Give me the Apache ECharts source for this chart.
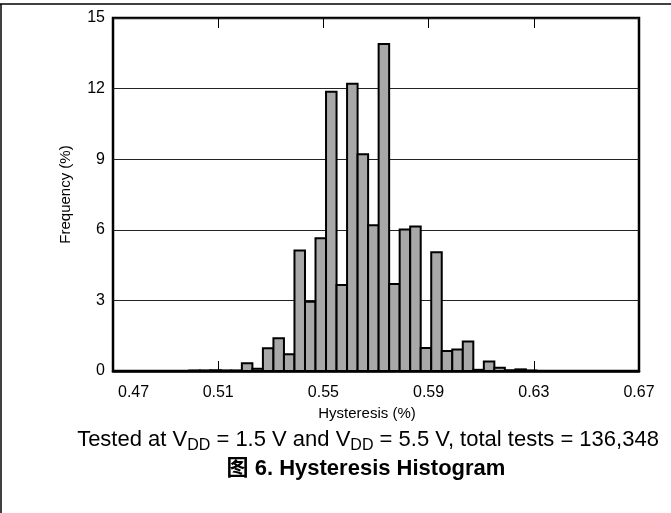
<!DOCTYPE html>
<html>
<head>
<meta charset="utf-8">
<script src="https://cdn.jsdelivr.net/npm/echarts@6/dist/echarts.min.js"></script>
<style>html,body{margin:0;padding:0;background:#fff}#c{width:671px;height:513px}</style>
</head>
<body>
<div id="c"></div>
<script>
// bin width of the histogram (Hysteresis %)
const binWidth = 0.004;
// bin centers (Hysteresis %)
const binCenters = [0.501, 0.505, 0.509, 0.513, 0.517, 0.521, 0.525, 0.529, 0.533, 0.537,
  0.541, 0.545, 0.549, 0.553, 0.557, 0.561, 0.565, 0.569, 0.573, 0.577,
  0.581, 0.585, 0.589, 0.593, 0.597, 0.601, 0.605, 0.609, 0.613, 0.617,
  0.621, 0.625, 0.629];
// frequency (%)
const frequency = [0.02, 0.02, 0.03, 0.02, 0.02, 0.33, 0.1, 0.97, 1.39, 0.71,
  5.12, 2.94, 5.64, 11.87, 3.65, 12.21, 9.21, 6.19, 13.89, 3.7,
  6.01, 6.14, 0.98, 5.05, 0.85, 0.91, 1.25, 0.05, 0.4, 0.14,
  0.03, 0.07, 0.02];
const xTicks = [0.47, 0.51, 0.55, 0.59, 0.63, 0.67];
const yTicks = [0, 3, 6, 9, 12, 15];

const FONT = 'Liberation Sans, Arial, sans-serif';
const data = binCenters.map((c, i) => [c, frequency[i]]);

const chart = echarts.init(document.getElementById('c'));
chart.setOption({
  animation: false,
  backgroundColor: '#fff',
  grid: {left: 113, right: 32, top: 18, bottom: 142, show: true, borderColor: '#000', borderWidth: 2.5, backgroundColor: 'transparent'},
  xAxis: [{
    type: 'value', min: xTicks[0], max: xTicks[xTicks.length - 1], interval: 0.04,
    name: 'Hysteresis (%)', nameLocation: 'middle', nameGap: 33,
    nameTextStyle: {fontFamily: FONT, fontSize: 15, color: '#000', padding: [0, 18, 0, 0]},
    axisLine: {show: true, lineStyle: {color: '#000', width: 2.5}},
    axisTick: {show: true, inside: true, length: 10, lineStyle: {color: '#000', width: 1}},
    axisLabel: {fontFamily: FONT, fontSize: 16, color: '#000', margin: 14,
      alignMinLabel: 'left',
      formatter: v => Math.abs(v - xTicks[0]) < 1e-9 ? '{first|' + v.toFixed(2) + '}' : v.toFixed(2),
      rich: {first: {fontFamily: FONT, fontSize: 16, color: '#000', padding: [0, 0, 0, 5]}}},
    splitLine: {show: false}
  }, {
    type: 'value', position: 'top', min: xTicks[0], max: xTicks[xTicks.length - 1], interval: 0.04,
    axisLine: {show: false},
    axisTick: {show: true, inside: true, length: 10, lineStyle: {color: '#000', width: 1}},
    axisLabel: {show: false}, splitLine: {show: false}
  }],
  yAxis: {
    type: 'value', min: yTicks[0], max: yTicks[yTicks.length - 1], interval: 3,
    name: 'Frequency (%)', nameLocation: 'middle', nameGap: 40, nameRotate: 90,
    nameTextStyle: {fontFamily: FONT, fontSize: 15, color: '#000'},
    axisLine: {show: false}, axisTick: {show: false},
    axisLabel: {fontFamily: FONT, fontSize: 16, color: '#000', margin: 8},
    splitLine: {show: true, lineStyle: {color: '#222', width: 1}}
  },
  series: [{
    type: 'custom',
    data: data,
    encode: {x: 0, y: 1},
    renderItem: function (params, api) {
      const c = api.value(0), v = api.value(1);
      const p0 = api.coord([c - binWidth / 2, v]);
      const p1 = api.coord([c + binWidth / 2, 0]);
      return {type: 'rect', shape: {x: p0[0], y: p0[1], width: p1[0] - p0[0], height: p1[1] - p0[1]},
        style: {fill: '#a8a8a8', stroke: '#000', lineWidth: 2}};
    }
  }],
  graphic: [
    {type: 'line', shape: {x1: 0, y1: 4, x2: 671, y2: 4}, style: {stroke: '#000', lineWidth: 1.5}},
    {type: 'line', shape: {x1: 1, y1: 4, x2: 1, y2: 513}, style: {stroke: '#000', lineWidth: 1.5}},
    {type: 'text', x: 368, y: 440, style: {
      text: 'Tested at V{sub|DD} = 1.5 V and V{sub|DD} = 5.5 V, total tests = 136,348',
      font: '22px ' + FONT, fill: '#000', align: 'center', verticalAlign: 'middle',
      rich: {sub: {fontSize: 16, fontFamily: FONT, verticalAlign: 'bottom', padding: [11, 0, 0, 0]}}
    }},
    {type: 'text', x: 366, y: 469, style: {
      text: '图 6. Hysteresis Histogram', font: 'bold 22px ' + FONT + ', Noto Sans CJK SC', fill: '#000',
      align: 'center', verticalAlign: 'middle'
    }}
  ]
});
</script>
</body>
</html>
